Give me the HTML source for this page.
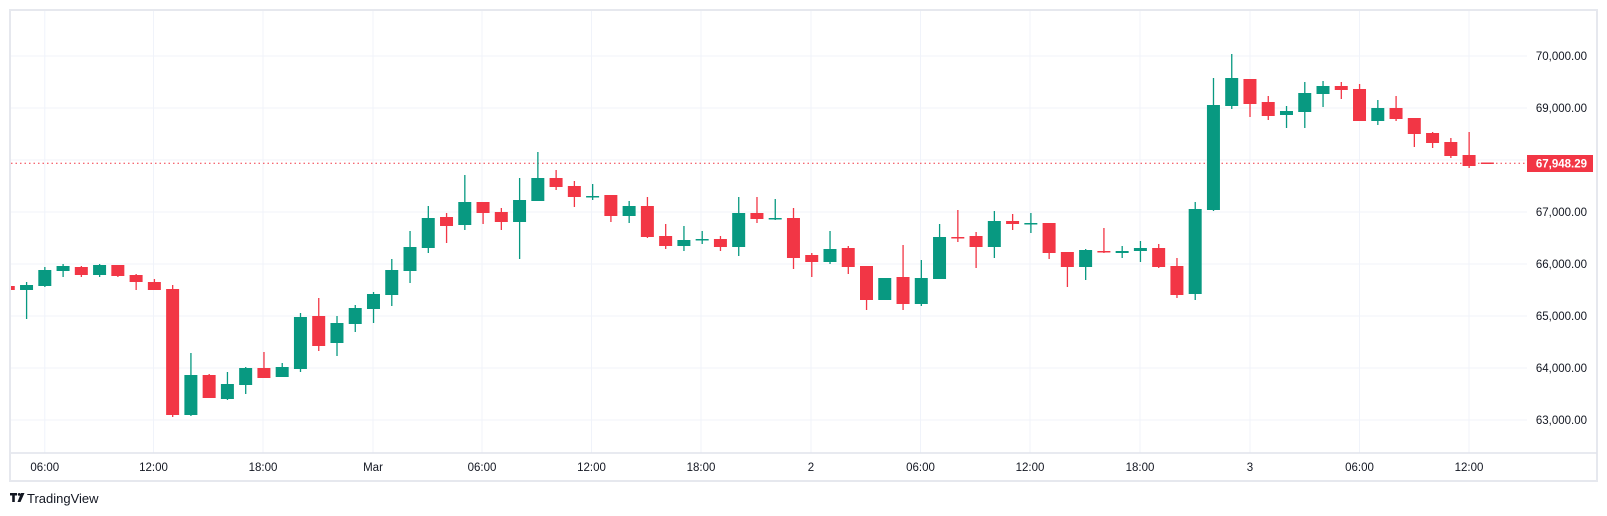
<!DOCTYPE html>
<html><head><meta charset="utf-8"><style>
html,body{margin:0;padding:0;background:#fff;width:1607px;height:516px;overflow:hidden}
svg{display:block;font-family:"Liberation Sans",sans-serif}
</style></head><body>
<svg id="s" width="1607" height="516" xmlns="http://www.w3.org/2000/svg">
<rect x="0" y="0" width="1607" height="516" fill="#fff"/>
<rect x="10" y="10" width="1587" height="471" fill="none" stroke="#e6e8ee" stroke-width="2"/>
<g id="grid" stroke="#f0f3fa" stroke-width="1"></g>
<line x1="11" y1="453" x2="1597" y2="453" stroke="#e0e3eb" stroke-width="1.5"/>
<line x1="11" y1="163.3" x2="1527" y2="163.3" stroke="#f23645" stroke-width="1" stroke-dasharray="1.5,3"/>
<g id="candles"></g>
<g id="plabels" font-size="11.5" fill="#131722" text-anchor="end"></g>
<g id="tlabels" font-size="11.5" fill="#131722" text-anchor="middle"></g>
<rect x="1527" y="155" width="66" height="17" fill="#f23645"/>
<text x="1587" y="167.5" font-size="11.5" font-weight="bold" fill="#fff" text-anchor="end">67,948.29</text>
<g transform="translate(10,493)">
<path d="M0 0h7v2.5h-2.2v6.5h-2.6v-6.5h-2.2z" fill="#131722"/>
<circle cx="9.2" cy="1.4" r="1.4" fill="#131722"/>
<path d="M11 0h3.5l-4 9h-3z" fill="#131722"/>
</g>
<text x="27" y="503" font-size="13" fill="#131722">TradingView</text>
</svg>
<script>
var NS="http://www.w3.org/2000/svg";
function el(p,t,a){var e=document.createElementNS(NS,t);for(var k in a)e.setAttribute(k,a[k]);p.appendChild(e);return e;}
var grid=document.getElementById('grid');
var gx=[44.8,153.5,263,373,482,591.5,701,811,920.5,1030,1140,1250,1359.5,1469];
gx.forEach(function(x){el(grid,'line',{x1:x,y1:11,x2:x,y2:453});});
var pl=document.getElementById('plabels');
for(var p=63000;p<=70000;p+=1000){var y=212-(p-67000)*0.052;el(grid,'line',{x1:11,y1:y,x2:1527,y2:y});
var t=el(pl,'text',{x:1587,y:y+4});t.textContent=(p/1000)+",000.00";}
var tl=document.getElementById('tlabels');
var names=["06:00","12:00","18:00","Mar","06:00","12:00","18:00","2","06:00","12:00","18:00","3","06:00","12:00"];
gx.forEach(function(x,i){var t=el(tl,'text',{x:x,y:471});t.textContent=names[i];});
var D=[
[286,290,286,290,'r'],[285,290,282,319,'g'],[270,286,267,287,'g'],[266,271,264,277,'g'],[267,275,266,277,'r'],
[265,275,264,277,'g'],[265,276,265,277,'r'],[275,282,274,290,'r'],[282,290,279,290,'r'],[289,415,285,417,'r'],
[375,415,353,416,'g'],[375,398,374,398,'r'],[384,399,372,400,'g'],[368,385,367,394,'g'],[368,378,352,378,'r'],
[367,377,363,377,'g'],[317,369,313,372,'g'],[316,346,298,351,'r'],[323,343,316,356,'g'],[308,324,305,332,'g'],
[294,309,292,323,'g'],[270,295,259,306,'g'],[247,271,231,283,'g'],[218,248,206,253,'g'],[217,226,213,243,'r'],
[202,225,175,230,'g'],[202,213,202,224,'r'],[212,222,208,230,'r'],[200,222,178,259,'g'],[178,201,152,201,'g'],
[178,187,170,190,'r'],[186,197,181,207,'r'],[196,197,184,200,'g'],[195,216,195,222,'r'],[206,216,201,223,'g'],
[206,237,197,238,'r'],[236,246,224,249,'r'],[240,246,226,251,'g'],[239,240,231,244,'g'],[239,247,236,251,'r'],
[213,247,197,256,'g'],[213,219,197,223,'r'],[218,219,199,220,'g'],[218,258,208,269,'r'],[255,262,253,277,'r'],
[249,262,231,264,'g'],[248,267,246,274,'r'],[266,300,266,310,'r'],[278,300,278,300,'g'],[277,304,245,310,'r'],
[278,304,260,306,'g'],[237,279,224,279,'g'],[237,238,210,242,'r'],[236,247,232,268,'r'],[221,247,211,258,'g'],
[221,224,214,230,'r'],[223,224,213,233,'g'],[223,253,223,259,'r'],[252,267,252,287,'r'],[250,267,249,280,'g'],
[251,252,228,253,'r'],[251,253,246,258,'g'],[248,251,241,262,'g'],[248,267,244,268,'r'],[266,295,258,298,'r'],
[209,294,202,300,'g'],[105,210,78,211,'g'],[78,106,54,109,'g'],[79,104,79,117,'r'],[102,116,96,120,'r'],
[111,115,106,128,'g'],[93,112,82,128,'g'],[86,94,81,107,'g'],[86,90,82,99,'r'],[89,121,84,121,'r'],
[108,121,100,125,'g'],[108,119,96,121,'r'],[118,134,118,147,'r'],[133,143,132,148,'r'],[142,156,138,158,'r'],
[155,166,132,168,'r'],[162.5,163.5,162.5,163.5,'r']];
var cg=document.getElementById('candles');
el(cg,'clipPath',{id:'cp'});
var cp=cg.lastChild;el(cp,'rect',{x:11,y:11,width:1516,height:442});
var g=el(cg,'g',{'clip-path':'url(#cp)'});
D.forEach(function(d,i){
 var x=44.8+(i-2)*18.26;var c=d[4]=='g'?'#089981':'#f23645';
 el(g,'rect',{x:x-0.6,y:d[2],width:1.3,height:Math.max(1,d[3]-d[2]),fill:c});
 var h=Math.max(1.5,d[1]-d[0]);
 el(g,'rect',{x:x-6.5,y:d[0],width:13,height:h,fill:c});
});
</script>
</body></html>
